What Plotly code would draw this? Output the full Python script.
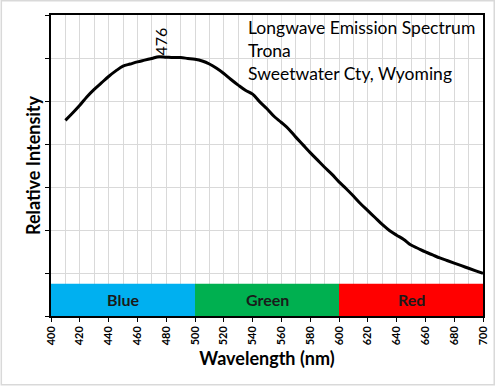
import plotly.graph_objects as go

wavelength = [410, 415, 420, 425, 430, 435, 440, 445, 450, 455, 460, 465, 470, 475, 480,
              485, 490, 495, 500, 505, 510, 515, 520, 525, 530, 535, 540, 545, 550, 555,
              560, 565, 570, 575, 580, 585, 590, 595, 600, 605, 610, 615, 620, 625, 630,
              635, 640, 645, 650, 655, 660, 665, 670, 675, 680, 685, 690, 695, 700]
intensity = [4.55, 4.72, 4.90, 5.10, 5.27, 5.42, 5.57, 5.70, 5.81, 5.86, 5.91, 5.95, 5.99, 6.03, 6.02,
             6.01, 6.01, 5.99, 5.97, 5.93, 5.86, 5.76, 5.64, 5.50, 5.37, 5.25, 5.16, 4.98, 4.82, 4.64,
             4.50, 4.35, 4.16, 3.98, 3.80, 3.63, 3.46, 3.30, 3.12, 2.96, 2.79, 2.61, 2.45, 2.29, 2.13,
             1.99, 1.88, 1.78, 1.65, 1.57, 1.49, 1.42, 1.35, 1.29, 1.23, 1.17, 1.11, 1.05, 0.99]

bands = ["Blue", "Green", "Red"]
band_start = [400, 500, 600]
band_end = [500, 600, 700]
band_colors = ["#00B0F0", "#00B050", "#FF0000"]
band_top = 0.75

peak_label = "476"
peak_x = 476
title_lines = ["Longwave Emission Spectrum", "Trona", "Sweetwater Cty, Wyoming"]

FONT = "Lato"

fig = go.Figure()
fig.add_trace(go.Scatter(x=wavelength, y=intensity, mode="lines",
                         line=dict(color="black", width=3), line_shape="spline",
                         showlegend=False, hoverinfo="skip"))

for name, x0, x1, c in zip(bands, band_start, band_end, band_colors):
    fig.add_shape(type="rect", x0=x0, x1=x1, y0=0, y1=band_top, xref="x", yref="y",
                  fillcolor=c, line=dict(width=0), layer="above")
    fig.add_annotation(x=(x0 + x1) / 2, y=band_top / 2, text="<b>%s</b>" % name, showarrow=False,
                       font=dict(family=FONT, size=16, color="#1a1a1a"))

fig.add_annotation(x=peak_x, y=6.02, text=peak_label, textangle=-90, showarrow=False,
                   yanchor="bottom", font=dict(family=FONT, size=16, color="black"))

fig.add_annotation(xref="paper", yref="paper", x=0.451, y=1.0, xanchor="left", yanchor="top",
                   align="left", showarrow=False, text="<br>".join(title_lines),
                   font=dict(family=FONT, size=17.5, color="black"))

# outer chart border
fig.add_shape(type="rect", xref="paper", yref="paper", x0=-0.115, x1=1.026, y0=-0.228, y1=1.047,
              line=dict(color="#d9d9d9", width=1.5), fillcolor="rgba(0,0,0,0)")

fig.update_layout(
    width=496, height=386,
    margin=dict(l=51, r=13, t=15, b=70, autoexpand=False),
    paper_bgcolor="white", plot_bgcolor="white",
    font=dict(family=FONT, color="black"),
    xaxis=dict(range=[400, 700], dtick=20, tick0=400, tickangle=-90, ticks="outside", ticklen=4,
               tickcolor="black", tickfont=dict(size=11, family=FONT, weight="bold"),
               showgrid=True, gridcolor="#d9d9d9", gridwidth=1,
               minor=dict(dtick=10, showgrid=True, gridcolor="#d9d9d9", gridwidth=1),
               showline=True, linecolor="black", linewidth=1.5, mirror=True, automargin=False,
               title=dict(text="<b>Wavelength (nm)</b>", font=dict(size=18, family=FONT), standoff=8),
               zeroline=False),
    yaxis=dict(range=[0, 7], dtick=1, showticklabels=False, ticks="outside", ticklen=4,
               tickcolor="black", showgrid=True, gridcolor="#d9d9d9", gridwidth=1,
               showline=True, linecolor="black", linewidth=1.5, mirror=True, automargin=False,
               title=dict(text="<b>Relative Intensity</b>", font=dict(size=18, family=FONT), standoff=0),
               zeroline=False),
)

fig.write_html("out.html", config={"displayModeBar": False},
               post_script="document.body.style.margin='0';document.body.style.overflow='hidden';")
